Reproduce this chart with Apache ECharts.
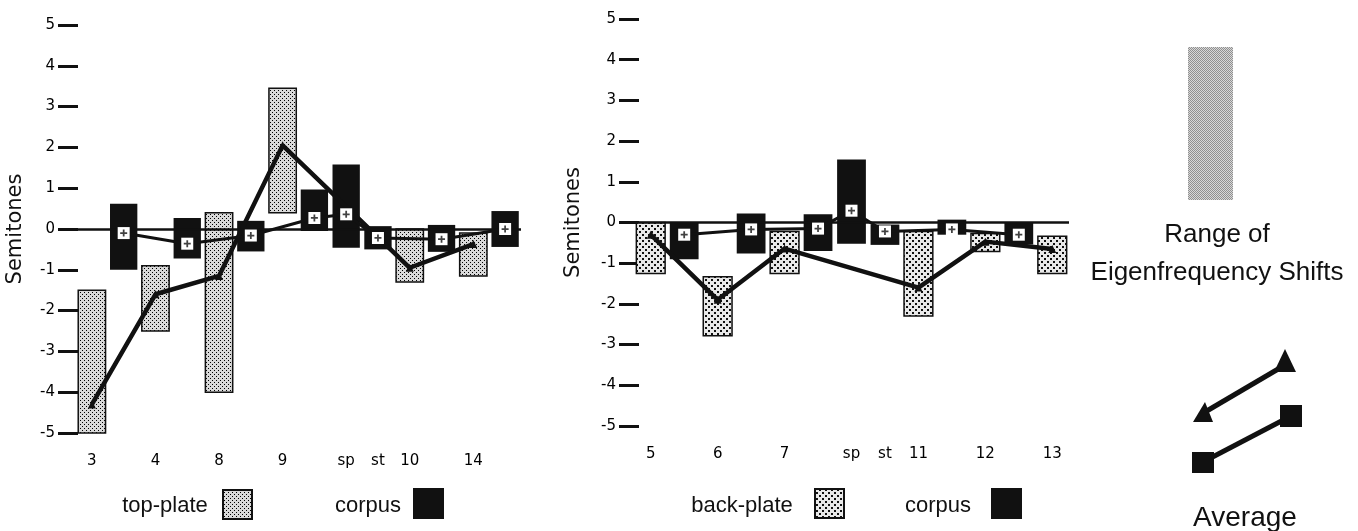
<!DOCTYPE html>
<html>
<head>
<meta charset="utf-8">
<style>
  html, body { margin: 0; padding: 0; background: #fff; }
  #main { width: 1358px; height: 531px; }
</style>
<script src="https://cdn.jsdelivr.net/npm/echarts@6.0.0/dist/echarts.min.js"></script>
</head>
<body>
<div id="main"></div>
<script>
// left panel: top-plate modes and corpus, one x slot each
var leftSlots = ['3', '3c', '4', '4c', '8', '8c', '9', '9c', 'sp', 'st', '10', '10c', '14', '14c'];
var leftTicks = ['3', '', '4', '', '8', '', '9', '', 'sp', 'st', '10', '', '14', ''];
var topPlateSlot = [0, 2, 4, 6, 10, 12];
var topPlateLow  = [-5.0, -2.5, -4.0, 0.4, -1.3, -1.15];
var topPlateHigh = [-1.5, -0.9, 0.4, 3.45, 0.0, -0.1];
var topPlateAvg  = [-4.3, -1.6, -1.15, 2.05, -0.95, -0.37];
var leftCorpusSlot = [1, 3, 5, 7, 8, 9, 11, 13];
var leftCorpusLow  = [-1.0, -0.72, -0.55, -0.05, -0.46, -0.5, -0.56, -0.44];
var leftCorpusHigh = [0.62, 0.27, 0.2, 0.97, 1.58, 0.07, 0.1, 0.44];
var leftCorpusAvg  = [-0.1, -0.36, -0.16, 0.27, 0.36, -0.22, -0.25, 0.0];

// right panel: back-plate modes and corpus
var rightSlots = ['5', '5c', '6', '6c', '7', '7c', 'sp', 'st', '11', '11c', '12', '12c', '13'];
var rightTicks = ['5', '', '6', '', '7', '', 'sp', 'st', '11', '', '12', '', '13'];
var backPlateSlot = [0, 2, 4, 8, 10, 12];
var backPlateLow  = [-1.25, -2.78, -1.25, -2.3, -0.71, -1.25];
var backPlateHigh = [0.0, -1.33, -0.22, -0.22, -0.27, -0.34];
var backPlateAvg  = [-0.3, -1.9, -0.64, -1.6, -0.47, -0.65];
var rightCorpusSlot = [1, 3, 5, 6, 7, 9, 11];
var rightCorpusLow  = [-0.9, -0.76, -0.7, -0.52, -0.55, -0.3, -0.54];
var rightCorpusHigh = [0.0, 0.22, 0.2, 1.55, -0.05, 0.07, 0.0];
var rightCorpusAvg  = [-0.3, -0.17, -0.15, 0.29, -0.22, -0.17, -0.3];

var axisFont = 'DejaVu Sans';
var textFont = '"Liberation Sans", Arial, sans-serif';

// small dot patterns like the print screens
function dots(size, dot, bg, fg, pts) {
    var c = document.createElement('canvas');
    c.width = c.height = size;
    var g = c.getContext('2d');
    g.fillStyle = bg;
    g.fillRect(0, 0, size, size);
    g.fillStyle = fg;
    pts.forEach(function (p) { g.fillRect(p[0], p[1], dot, dot); });
    return { image: c, repeat: 'repeat' };
}
var topFill = dots(4, 1, '#d9d9d9', '#000', [[0, 0], [2, 2]]);
var backFill = dots(6, 2, '#e9e9e9', '#111', [[0, 0], [3, 3]]);
var rangeFill = dots(2, 1, '#d8d8d8', '#909090', [[0, 0], [1, 1]]);

function rangeBar(fill, stroke) {
    return function (params, api) {
        var x = api.value(0);
        var top = api.coord([x, api.value(2)]);
        var bot = api.coord([x, api.value(1)]);
        var w = api.size([1, 0])[0] * 0.86;
        return {
            type: 'rect',
            shape: { x: top[0] - w / 2, y: top[1], width: w, height: bot[1] - top[1] },
            style: { fill: fill, stroke: stroke || null, lineWidth: stroke ? 1.5 : 0 }
        };
    };
}

function pairs(slot, a, b) {
    return slot.map(function (s, i) { return b ? [s, a[i], b[i]] : [s, a[i]]; });
}

function panelSeries(idx, pSlot, pLow, pHigh, pAvg, cSlot, cLow, cHigh, cAvg, fill) {
    return [{
        type: 'custom', xAxisIndex: idx, yAxisIndex: idx, z: 2,
        renderItem: rangeBar(fill, '#111'),
        encode: { x: 0, y: [1, 2] },
        data: pairs(pSlot, pLow, pHigh)
    }, {
        type: 'custom', xAxisIndex: idx, yAxisIndex: idx, z: 3,
        renderItem: rangeBar('#111'),
        encode: { x: 0, y: [1, 2] },
        data: pairs(cSlot, cLow, cHigh)
    }, {
        type: 'line', xAxisIndex: idx, yAxisIndex: idx, z: 4,
        data: pairs(pSlot, pAvg),
        symbol: 'triangle', symbolSize: 8,
        itemStyle: { color: '#111' },
        lineStyle: { color: '#111', width: 4.5 },
        markLine: {
            silent: true, symbol: 'none', label: { show: false },
            lineStyle: { color: '#111', width: 2.5, type: 'solid' },
            data: [{ yAxis: 0 }]
        }
    }, {
        type: 'line', xAxisIndex: idx, yAxisIndex: idx, z: 5,
        data: pairs(cSlot, cAvg),
        symbol: 'rect', symbolSize: 12,
        itemStyle: { color: '#fff' },
        lineStyle: { color: '#111', width: 3 }
    }, {
        type: 'scatter', xAxisIndex: idx, yAxisIndex: idx, z: 6,
        data: pairs(cSlot, cAvg),
        symbol: 'path://M3,0H5V8H3Z M0,3H8V5H0Z', symbolSize: 7,
        itemStyle: { color: '#111' }
    }];
}

function xAxis(idx, slots, ticks) {
    return {
        type: 'category', gridIndex: idx, data: slots,
        axisLine: { show: false }, axisTick: { show: false },
        axisLabel: {
            interval: 0, margin: 21, fontSize: 15, fontFamily: axisFont, color: '#000',
            formatter: function (v, i) { return ticks[i]; }
        }
    };
}

function yAxis(idx, offset, gap) {
    return {
        type: 'value', gridIndex: idx, min: -5, max: 5, interval: 1, offset: offset,
        axisLine: { show: false },
        axisTick: { show: true, length: 20, lineStyle: { color: '#111', width: 3 } },
        splitLine: { show: false },
        axisLabel: { margin: 23, fontSize: 15, fontFamily: axisFont, color: '#000' },
        name: 'Semitones', nameLocation: 'middle', nameRotate: 90, nameGap: gap,
        nameTextStyle: { fontSize: 21, fontFamily: axisFont, color: '#111' }
    };
}

function label(x, y, text, size) {
    return {
        type: 'text', x: x, y: y,
        style: { text: text, font: size + 'px ' + textFont, fill: '#111', align: 'center', verticalAlign: 'middle' }
    };
}
function swatch(x, y, fill) {
    return {
        type: 'rect', shape: { x: x, y: y, width: 29, height: 29 },
        style: { fill: fill, stroke: '#111', lineWidth: 2 }
    };
}

var myChart = echarts.init(document.getElementById('main'));
var option = {
    backgroundColor: '#fff',
    animation: false,
    grid: [
        { left: 76, width: 445, top: 25, height: 408 },
        { left: 634, width: 435, top: 19, height: 407 }
    ],
    xAxis: [xAxis(0, leftSlots, leftTicks), xAxis(1, rightSlots, rightTicks)],
    yAxis: [yAxis(0, -2, 52), yAxis(1, -5, 55)],
    series: [].concat(
        panelSeries(0, topPlateSlot, topPlateLow, topPlateHigh, topPlateAvg,
            leftCorpusSlot, leftCorpusLow, leftCorpusHigh, leftCorpusAvg, topFill),
        panelSeries(1, backPlateSlot, backPlateLow, backPlateHigh, backPlateAvg,
            rightCorpusSlot, rightCorpusLow, rightCorpusHigh, rightCorpusAvg, backFill)
    ),
    graphic: [
        label(165, 506, 'top-plate', 22),
        swatch(223, 490, topFill),
        label(368, 506, 'corpus', 22),
        swatch(414, 489, '#111'),
        label(742, 506, 'back-plate', 22),
        swatch(815, 489, backFill),
        label(938, 506, 'corpus', 22),
        swatch(992, 489, '#111'),
        // key on the right
        { type: 'rect', shape: { x: 1188, y: 47, width: 45, height: 153 }, style: { fill: rangeFill } },
        label(1217, 235, 'Range of', 26),
        label(1217, 273, 'Eigenfrequency Shifts', 26),
        { type: 'line', shape: { x1: 1285, y1: 365, x2: 1205, y2: 412 }, style: { stroke: '#111', lineWidth: 5 } },
        { type: 'polygon', shape: { points: [[1285, 349], [1296, 372], [1274, 372]] }, style: { fill: '#111' } },
        { type: 'polygon', shape: { points: [[1205, 402], [1213, 422], [1193, 422]] }, style: { fill: '#111' } },
        { type: 'line', shape: { x1: 1203, y1: 462, x2: 1291, y2: 416 }, style: { stroke: '#111', lineWidth: 5 } },
        { type: 'rect', shape: { x: 1192, y: 452, width: 22, height: 21 }, style: { fill: '#111' } },
        { type: 'rect', shape: { x: 1280, y: 405, width: 22, height: 22 }, style: { fill: '#111' } },
        label(1245, 518, 'Average', 28)
    ]
};
myChart.setOption(option);
</script>
</body>
</html>
